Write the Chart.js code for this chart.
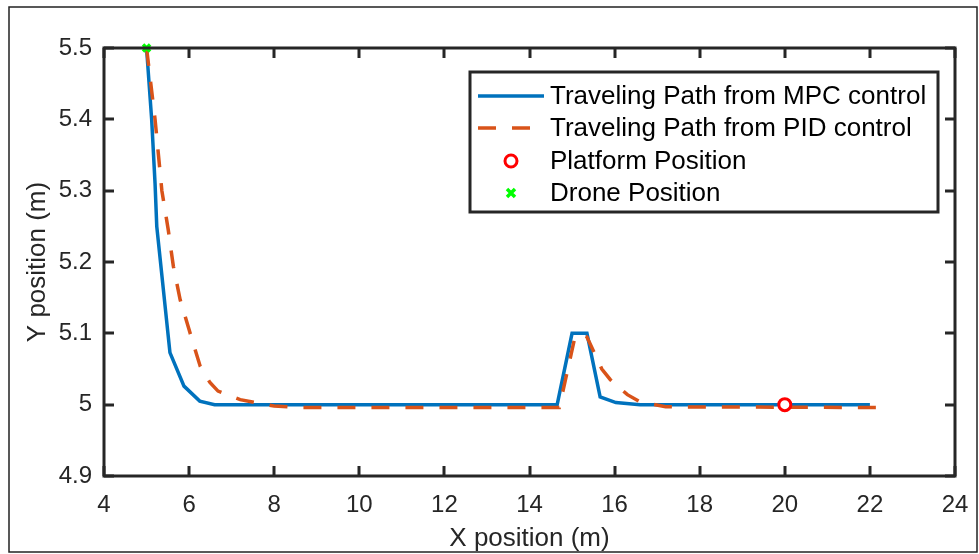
<!DOCTYPE html>
<html>
<head>
<meta charset="utf-8">
<script src="https://cdn.jsdelivr.net/npm/chart.js@4.4.0/dist/chart.umd.min.js"></script>
<style>
  html, body { margin: 0; padding: 0; background: #fff; }
  #wrap { width: 979px; height: 554px; position: relative; }
</style>
</head>
<body>
<div id="wrap"><canvas id="chart" width="979" height="554"></canvas></div>
<script>
// MPC path (blue solid)
const mpcX = [5.0, 5.12, 5.2, 5.24, 5.55, 5.88, 6.25, 6.6, 14.65, 15.0, 15.35, 15.66, 16.03, 16.6, 22.0];
const mpcY = [5.5, 5.4, 5.31, 5.25, 5.073, 5.026, 5.005, 5.0, 5.0, 5.1, 5.1, 5.011, 5.003, 5.0, 5.0];

// PID path (orange dashed)
const pidX = [5.0, 5.2, 5.36, 5.51, 5.63, 5.79, 6.02, 6.26, 6.49, 6.68, 7.2, 7.55, 8.0, 8.6, 14.7, 15.05, 15.2, 15.35, 15.7, 15.9, 16.3, 16.6, 17.2, 22.2];
const pidY = [5.5, 5.4, 5.3, 5.245, 5.194, 5.147, 5.101, 5.054, 5.031, 5.019, 5.007, 5.003, 4.998, 4.996, 4.996, 5.09, 5.1, 5.095, 5.05, 5.035, 5.014, 5.004, 4.997, 4.996];

const platform = [20, 5.0];
const drone = [5, 5.5];

const xTicks = [4, 6, 8, 10, 12, 14, 16, 18, 20, 22, 24];
const yTicks = [4.9, 5.0, 5.1, 5.2, 5.3, 5.4, 5.5];

const labels = [
  'Traveling Path from MPC control',
  'Traveling Path from PID control',
  'Platform Position',
  'Drone Position'
];

const FONT = '"Liberation Sans", Arial, Helvetica, sans-serif';
const AXIS = '#262626';

const pts = (xs, ys) => xs.map((x, i) => ({ x: x, y: ys[i] }));

// inward ticks on all four sides + box + figure frame + legend
const matlabAxes = {
  id: 'matlabAxes',
  afterDraw(chart) {
    const ctx = chart.ctx;
    const a = chart.chartArea;
    const xs = chart.scales.x, ys = chart.scales.y;
    ctx.save();
    ctx.strokeStyle = AXIS;
    ctx.lineWidth = 3;
    ctx.strokeRect(a.left, a.top, a.right - a.left, a.bottom - a.top);
    const len = 10;
    ctx.beginPath();
    xTicks.forEach(v => {
      const p = Math.round(xs.getPixelForValue(v));
      ctx.moveTo(p, a.bottom); ctx.lineTo(p, a.bottom - len);
      ctx.moveTo(p, a.top); ctx.lineTo(p, a.top + len);
    });
    yTicks.forEach(v => {
      const p = Math.round(ys.getPixelForValue(v));
      ctx.moveTo(a.left, p); ctx.lineTo(a.left + len, p);
      ctx.moveTo(a.right, p); ctx.lineTo(a.right - len, p);
    });
    ctx.stroke();

    // figure frame
    ctx.lineWidth = 1.5;
    ctx.strokeStyle = '#222';
    ctx.strokeRect(9, 7, 968, 545);

    // legend
    const lx = 470, ly = 72, lw = 468, lh = 140;
    ctx.fillStyle = '#fff';
    ctx.fillRect(lx, ly, lw, lh);
    ctx.lineWidth = 3;
    ctx.strokeStyle = AXIS;
    ctx.strokeRect(lx, ly, lw, lh);
    const rows = [96, 128, 161, 193];
    const ds = chart.data.datasets;
    ctx.font = '26px ' + FONT;
    ctx.textBaseline = 'middle';
    ctx.textAlign = 'left';
    rows.forEach((ry, i) => {
      const d = ds[i];
      ctx.fillStyle = d.backgroundColor;
      ctx.strokeStyle = d.borderColor;
      ctx.lineWidth = d.borderWidth;
      ctx.beginPath();
      if (i < 2) {
        ctx.setLineDash(d.borderDash || []);
        ctx.moveTo(478, ry); ctx.lineTo(544, ry);
        ctx.stroke();
        ctx.setLineDash([]);
      } else if (d.pointStyle === 'circle') {
        ctx.arc(511, ry, d.legendRadius, 0, Math.PI * 2);
        ctx.fill();
        ctx.stroke();
      } else {
        const r = d.legendRadius;
        ctx.moveTo(511 - r, ry - r); ctx.lineTo(511 + r, ry + r);
        ctx.moveTo(511 + r, ry - r); ctx.lineTo(511 - r, ry + r);
        ctx.stroke();
      }
      ctx.fillStyle = '#000';
      ctx.fillText(labels[i], 550, ry + 1);
    });
    ctx.restore();
  }
};

new Chart(document.getElementById('chart'), {
  type: 'scatter',
  data: {
    datasets: [
      {
        label: labels[0],
        data: pts(mpcX, mpcY),
        showLine: true,
        borderColor: '#0072BD',
        backgroundColor: '#0072BD',
        borderWidth: 3.5,
        pointRadius: 0,
        tension: 0,
        order: 3
      },
      {
        label: labels[1],
        data: pts(pidX, pidY),
        showLine: true,
        borderColor: '#D95319',
        backgroundColor: '#D95319',
        borderWidth: 3.5,
        borderDash: [18, 16],
        pointRadius: 0,
        tension: 0,
        order: 2
      },
      {
        label: labels[2],
        data: [{ x: platform[0], y: platform[1] }],
        pointStyle: 'circle',
        pointRadius: 6,
        legendRadius: 6,
        borderColor: '#FF0000',
        backgroundColor: '#FFFFFF',
        borderWidth: 3,
        order: 1
      },
      {
        label: labels[3],
        data: [{ x: drone[0], y: drone[1] }],
        pointStyle: 'crossRot',
        pointRadius: 5,
        legendRadius: 4,
        borderColor: '#00FF00',
        backgroundColor: '#00FF00',
        borderWidth: 3.5,
        order: 0
      }
    ]
  },
  options: {
    responsive: false,
    animation: false,
    clip: false,
    layout: { padding: { left: 0, top: 48, right: 24, bottom: 0 } },
    plugins: {
      legend: { display: false },
      tooltip: { enabled: false }
    },
    scales: {
      x: {
        type: 'linear',
        min: 4,
        max: 24,
        afterFit: s => { s.height = 78; s.paddingLeft = 0; s.paddingRight = 0; },
        afterBuildTicks: s => { s.ticks = xTicks.map(v => ({ value: v })); },
        grid: { display: false, drawTicks: false },
        border: { display: false },
        ticks: {
          color: AXIS,
          font: { family: FONT, size: 24 },
          padding: 15,
          maxRotation: 0
        },
        title: {
          display: true,
          text: 'X position (m)',
          color: AXIS,
          font: { family: FONT, size: 26 },
          padding: { top: 6, bottom: 0 }
        }
      },
      y: {
        type: 'linear',
        min: 4.9,
        max: 5.5,
        afterFit: s => { s.width = 104; s.paddingTop = 0; s.paddingBottom = 0; },
        afterBuildTicks: s => { s.ticks = yTicks.map(v => ({ value: v })); },
        grid: { display: false, drawTicks: false },
        border: { display: false },
        ticks: {
          color: AXIS,
          font: { family: FONT, size: 24 },
          padding: 12,
          callback: v => String(Math.round(v * 10) / 10)
        },
        title: {
          display: true,
          text: 'Y position (m)',
          color: AXIS,
          font: { family: FONT, size: 26 },
          padding: { top: 22, bottom: 4 }
        }
      }
    }
  },
  plugins: [matlabAxes]
});
</script>
</body>
</html>
